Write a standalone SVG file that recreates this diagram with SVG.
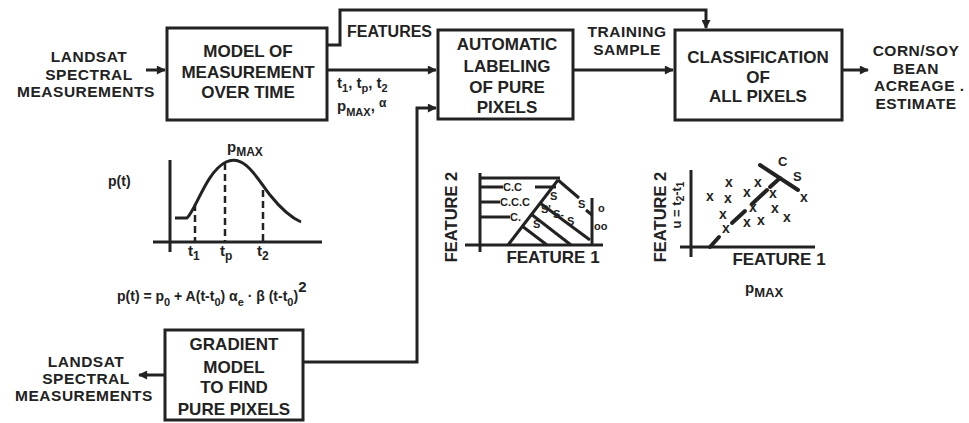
<svg xmlns="http://www.w3.org/2000/svg" width="969" height="423" viewBox="0 0 969 423">
<defs>
<style>
.t{font-family:"Liberation Sans",Arial,sans-serif;font-weight:bold;fill:#222;}
.m{text-anchor:middle;font-size:17px;}
.s{text-anchor:middle;font-size:15.5px;letter-spacing:0.5px}
.box{fill:#fff;stroke:#222;stroke-width:3}
.ln{fill:none;stroke:#222;stroke-width:3}
.th{fill:none;stroke:#222;stroke-width:4;stroke-linecap:round}
.ds{fill:none;stroke:#222;stroke-width:2.5;stroke-dasharray:7 4}
.sm{font-size:11px}
.xm{font-size:14px;text-anchor:middle}
</style>
<marker id="ah" viewBox="0 0 10 10" refX="9" refY="5" markerWidth="3.6" markerHeight="3" orient="auto" markerUnits="strokeWidth">
<path d="M0,0 L10,5 L0,10 Z" fill="#222"/>
</marker>
</defs>
<rect width="969" height="423" fill="#fff"/>

<g id="connectors">
<path class="ln" d="M146,70 L165,70" marker-end="url(#ah)"/>
<path class="ln" d="M327,45 L340,45 L340,10 L706,10 L706,28" marker-end="url(#ah)"/>
<path class="ln" d="M327,70 L436,70" marker-end="url(#ah)"/>
<path class="ln" d="M303,362 L417,362 L417,108 L436,108" marker-end="url(#ah)"/>
<path class="ln" d="M573,70 L673,70" marker-end="url(#ah)"/>
<path class="ln" d="M842,70 L868,70" marker-end="url(#ah)"/>
<path class="ln" d="M164,375 L139,375" marker-end="url(#ah)"/>
</g>

<g id="input-top">
<text class="t s" x="89" y="62">LANDSAT</text>
<text class="t s" x="89" y="79.5">SPECTRAL</text>
<text class="t s" x="86" y="97">MEASUREMENTS</text>
</g>

<g id="model-measurement">
<rect class="box" x="167" y="28" width="160" height="92"/>
<text class="t m" x="248" y="57">MODEL OF</text>
<text class="t m" x="248" y="78">MEASUREMENT</text>
<text class="t m" x="248" y="98">OVER TIME</text>
</g>

<g id="label-features">
<text class="t" x="347" y="37" font-size="16">FEATURES</text>
</g>

<g id="label-params">
<text class="t" x="337" y="88" font-size="15">t<tspan dy="4" font-size="11">1</tspan><tspan dy="-4">, t</tspan><tspan dy="4" font-size="11">p</tspan><tspan dy="-4">, t</tspan><tspan dy="4" font-size="11">2</tspan></text>
<text class="t" x="337" y="111" font-size="15">p<tspan dy="5" font-size="11">MAX</tspan><tspan dy="-5">, </tspan><tspan dy="-4" font-size="12">α</tspan></text>
</g>

<g id="auto-labeling">
<rect class="box" x="438" y="30" width="135" height="89"/>
<text class="t m" x="507" y="50">AUTOMATIC</text>
<text class="t m" x="507" y="72">LABELING</text>
<text class="t m" x="507" y="93">OF PURE</text>
<text class="t m" x="507" y="113">PIXELS</text>
</g>

<g id="label-training">
<text class="t s" x="627" y="37">TRAINING</text>
<text class="t s" x="627" y="55">SAMPLE</text>
</g>

<g id="classification">
<rect class="box" x="675" y="30" width="167" height="90"/>
<text class="t m" x="758" y="63">CLASSIFICATION</text>
<text class="t m" x="758" y="83">OF</text>
<text class="t m" x="758" y="102">ALL PIXELS</text>
</g>

<g id="output">
<text class="t s" x="916" y="56">CORN/SOY</text>
<text class="t s" x="916" y="73.5">BEAN</text>
<text class="t" x="874" y="91" font-size="15.5" letter-spacing="0.5">ACREAGE .</text>
<text class="t s" x="916" y="108.5">ESTIMATE</text>
</g>

<g id="gradient-model">
<rect class="box" x="165" y="330" width="138" height="90"/>
<text class="t m" x="234" y="350">GRADIENT</text>
<text class="t m" x="234" y="373">MODEL</text>
<text class="t m" x="234" y="393">TO FIND</text>
<text class="t m" x="234" y="415">PURE PIXELS</text>
</g>

<g id="input-bottom">
<text class="t s" x="86" y="367">LANDSAT</text>
<text class="t s" x="86" y="384">SPECTRAL</text>
<text class="t s" x="84" y="401">MEASUREMENTS</text>
</g>

<g id="curve-plot">
<line class="ln" x1="170" y1="160" x2="170" y2="252"/>
<line class="ln" x1="153" y1="242" x2="322" y2="242"/>
<path class="ln" d="M175,218 L187,218 C196,210 206,172 226,162 C245,153 258,180 270,195 C282,210 292,218 301,222"/>
<line class="ds" x1="195" y1="204" x2="195" y2="242"/>
<line class="ds" x1="225" y1="163" x2="225" y2="242"/>
<line class="ds" x1="263" y1="190" x2="263" y2="242"/>
<text class="t" x="227" y="152" font-size="15">p<tspan dy="4" font-size="12">MAX</tspan></text>
<text class="t" x="108" y="186" font-size="14">p(t)</text>
<text class="t" x="188" y="256" font-size="15">t<tspan dy="4" font-size="12">1</tspan></text>
<text class="t" x="220" y="256" font-size="15">t<tspan dy="4" font-size="12">p</tspan></text>
<text class="t" x="257" y="256" font-size="15">t<tspan dy="4" font-size="12">2</tspan></text>
<text class="t" x="117" y="301" font-size="14">p(t) = p<tspan dy="5" font-size="11">0</tspan><tspan dy="-5"> + A(t-t</tspan><tspan dy="5" font-size="11">0</tspan><tspan dy="-5">) α</tspan><tspan dy="5" font-size="11">e</tspan><tspan dy="-5"> · β (t-t</tspan><tspan dy="5" font-size="11">0</tspan><tspan dy="-5">)</tspan><tspan dy="-9" font-size="15">2</tspan></text>
</g>

<g id="feature-plot-1">
<line class="ln" x1="480" y1="173" x2="480" y2="252"/>
<line class="ln" x1="465" y1="245" x2="603" y2="245"/>
<line class="ln" x1="480" y1="178" x2="560" y2="178"/>
<line class="ln" x1="480" y1="187" x2="503" y2="187"/>
<line class="ln" x1="535" y1="187" x2="556" y2="187"/>
<line class="ln" x1="480" y1="202" x2="500" y2="202"/>
<line class="ln" x1="480" y1="217" x2="510" y2="217"/>
<line class="ln" x1="508" y1="245" x2="558" y2="180"/>
<line class="ln" x1="558" y1="180" x2="579" y2="198"/>
<line class="ln" x1="586" y1="210" x2="592" y2="215"/>
<line class="ln" x1="592" y1="198" x2="592" y2="245"/>
<line class="ln" x1="522" y1="226" x2="547" y2="245"/>
<line class="ln" x1="531" y1="214" x2="571" y2="245"/>
<line class="ln" x1="540" y1="203" x2="590" y2="240"/>
<text class="t sm" x="503" y="191">C.C</text>
<text class="t sm" x="500" y="206">C.C.C</text>
<text class="t sm" x="510" y="221">C.</text>
<text class="t sm" x="550" y="200">S</text>
<text class="t sm" x="578" y="208">S</text>
<text class="t sm" x="541" y="213">S'</text>
<text class="t sm" x="553" y="218">S-</text>
<text class="t sm" x="567" y="225">S</text>
<text class="t sm" x="533" y="228">S</text>
<text class="t sm" x="598" y="212">o</text>
<text class="t sm" x="594" y="230">oo</text>
<text class="t" x="0" y="0" font-size="16.5" text-anchor="middle" transform="translate(457,217) rotate(-90)">FEATURE 2</text>
<text class="t" x="553" y="263" font-size="17" text-anchor="middle">FEATURE 1</text>
</g>

<g id="feature-plot-2">
<line class="ln" x1="691" y1="170" x2="691" y2="257"/>
<line class="ln" x1="680" y1="247" x2="815" y2="247"/>
<line class="th" x1="710" y1="247" x2="719" y2="237"/>
<line class="th" x1="732" y1="223" x2="745" y2="211"/>
<line class="th" x1="752" y1="204" x2="767" y2="190"/>
<line class="th" x1="770" y1="187" x2="780" y2="178"/>
<line class="th" x1="760" y1="165" x2="798" y2="190"/>
<text class="t" x="778" y="166" font-size="13">C</text>
<text class="t" x="793" y="181" font-size="13">S</text>
<text class="t xm" x="710" y="201">x</text>
<text class="t xm" x="729" y="187">x</text>
<text class="t xm" x="728" y="203">x</text>
<text class="t xm" x="723" y="219">x</text>
<text class="t xm" x="726" y="233">x</text>
<text class="t xm" x="747" y="197">x</text>
<text class="t xm" x="758" y="187">x</text>
<text class="t xm" x="753" y="212">x</text>
<text class="t xm" x="747" y="227">x</text>
<text class="t xm" x="761" y="225">x</text>
<text class="t xm" x="773" y="198">x</text>
<text class="t xm" x="775" y="213">x</text>
<text class="t xm" x="787" y="222">x</text>
<text class="t xm" x="804" y="202">x</text>
<text class="t" x="0" y="0" font-size="16.5" text-anchor="middle" transform="translate(666,217) rotate(-90)">FEATURE 2</text>
<text class="t" x="0" y="0" font-size="13" text-anchor="middle" transform="translate(681,205) rotate(-90)">u = t<tspan dy="3" font-size="10">2</tspan><tspan dy="-3">-t</tspan><tspan dy="3" font-size="10">1</tspan></text>
<text class="t" x="779" y="265" font-size="17" text-anchor="middle">FEATURE 1</text>
<text class="t" x="745" y="293" font-size="15">p<tspan dy="4" font-size="13">MAX</tspan></text>
</g>
</svg>
